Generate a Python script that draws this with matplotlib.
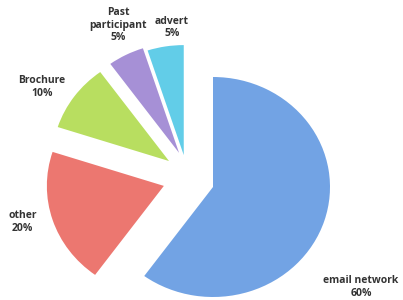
import matplotlib
matplotlib.use("Agg")
import matplotlib.pyplot as plt

categories = ["email network", "other", "Brochure", "Past\nparticipant", "advert"]
values = [60, 20, 10, 5, 5]

colors = ["#72a3e4", "#ec7770", "#b8de60", "#a690d6", "#62cde8"]
# offsets of each slice (layout), in radius units
shifts = [(0, 0), (-0.42, 0.01), (-0.376, 0.236), (-0.29, 0.31), (-0.25, 0.29)]
label_pos = [(1.265, -0.91), (-1.63, -0.32), (-1.46, 0.91), (-0.81, 1.47), (-0.35, 1.45)]

fig = plt.figure(figsize=(4.03, 3.0), dpi=100)
ax = fig.add_axes([0, 0, 1, 1])
pxx, pxy = 117.0, 110.0
xlim = (-213 / pxx, (403 - 213) / pxx)
ylim = (-(300 - 187) / pxy, 187 / pxy)

wedges, texts = ax.pie(values, colors=colors, startangle=90,
                       counterclock=False, radius=1.0,
                       labels=[f"{c}\n{v}%" for c, v in zip(categories, values)],
                       wedgeprops=dict(linewidth=0),
                       textprops=dict(fontsize=7.5, fontweight="bold", color="#333333",
                                      family="Open Sans", ha="center", va="center"))
for w, (dx, dy) in zip(wedges, shifts):
    w.set_center((dx, dy))
for t, p in zip(texts, label_pos):
    t.set_position(p)
    t.set_ha("center")
    t.set_va("center")
    t.set_multialignment("center")

ax.set_aspect("auto")
ax.set_xlim(*xlim)
ax.set_ylim(*ylim)
ax.axis("off")
fig.savefig("out.png", dpi=100)
